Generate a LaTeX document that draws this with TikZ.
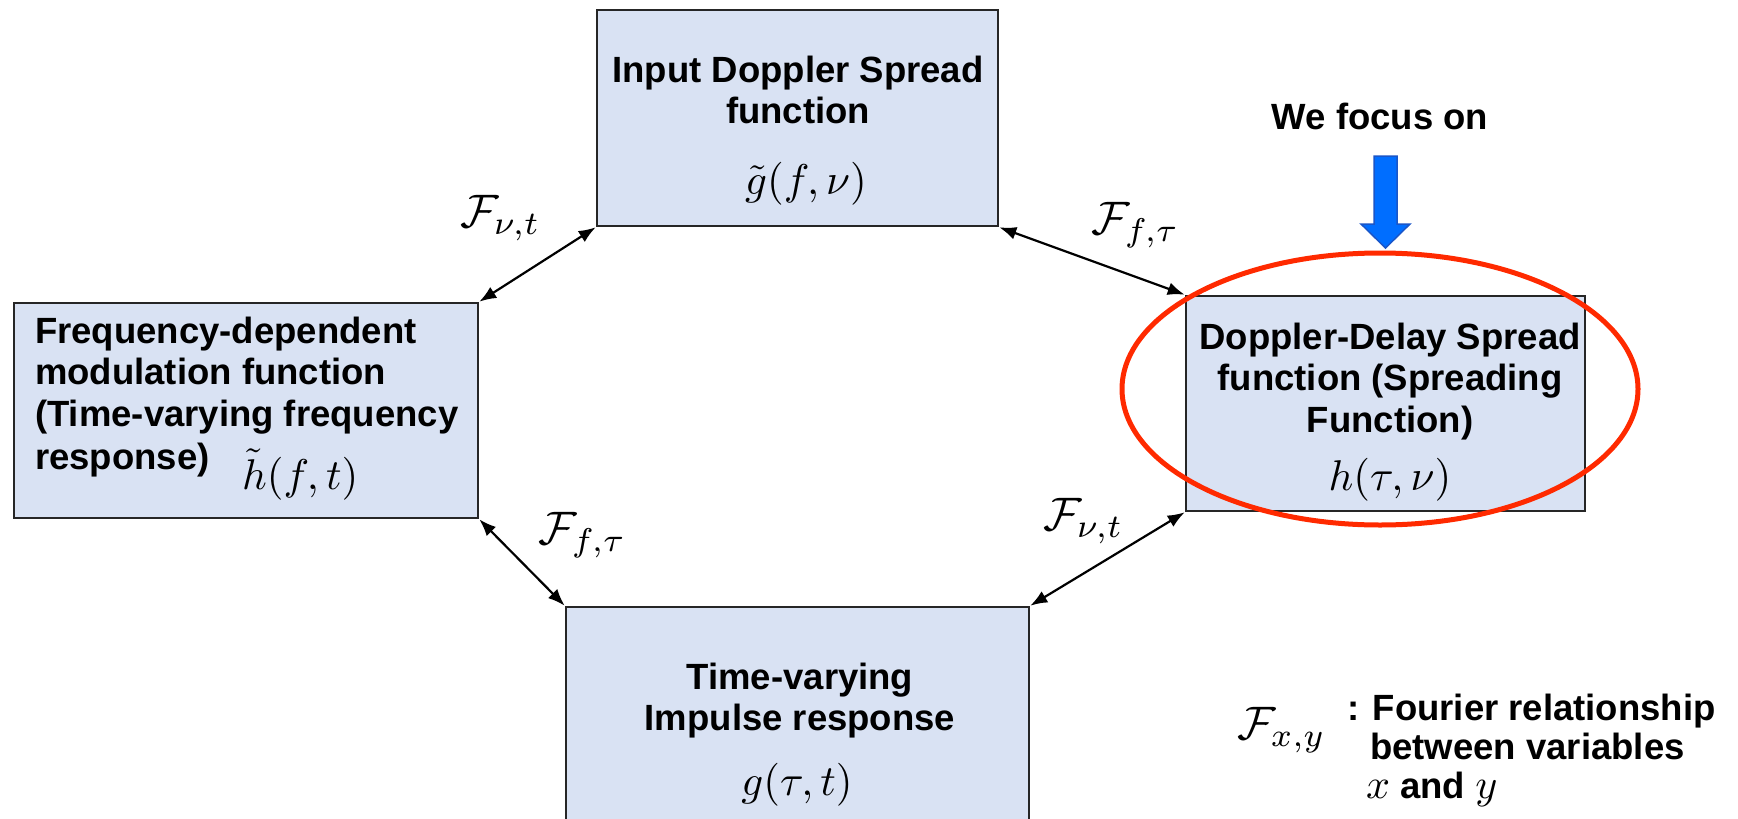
\documentclass[tikz,border=0pt]{standalone}
\usepackage{graphicx}
\usepackage[no-math]{fontspec}
\newfontfamily\arialb{Liberation Sans}
\usetikzlibrary{arrows.meta,shapes.geometric}
\definecolor{boxfill}{HTML}{D9E2F3}
\definecolor{focusred}{HTML}{FF2A00}
\definecolor{focusblue}{HTML}{006EFF}
\definecolor{focusblueedge}{HTML}{1A56C8}
\newcommand\bxmath[1]{\scalebox{4.3}{\normalsize$#1$}}
\newcommand\lbmath[1]{\scalebox{4.7}{\normalsize$#1$}}
\newcommand\lgmath[1]{\scalebox{4.2}{\normalsize$#1$}}
\begin{document}
\begin{tikzpicture}[x=1pt,y=-1pt,
  fbox/.style={draw=black!85, line width=2.6pt, fill=boxfill, inner sep=0pt},
  txt/.style={font=\arialb\bfseries\fontsize{36.5}{41.5}\selectfont, inner sep=0pt},
  mth/.style={inner sep=0pt, anchor=base},
  lab/.style={inner sep=0pt, anchor=base west},
  conn/.style={line width=2.2pt, {Latex[length=17pt,width=13pt]}-{Latex[length=17pt,width=13pt]}}
]
\clip (0,0) rectangle (1738,819);
\fill[white] (0,0) rectangle (1738,819);

% boxes
\node[fbox, minimum width=401pt, minimum height=216pt] (topbox) at (797.5,118) {};
\node[fbox, minimum width=464pt, minimum height=215pt] (leftbox) at (246,410.5) {};
\node[fbox, minimum width=399pt, minimum height=215pt] (rightbox) at (1385.5,403.5) {};
\node[fbox, minimum width=463pt, minimum height=240pt] (botbox) at (797.5,727) {};

% box texts
\node[txt, anchor=base] (toptxt) at (798,82)
  {\begin{tabular}[t]{@{}c@{}}Input Doppler Spread\\function\end{tabular}};
\node[mth] (topmath) at (806,194) {\bxmath{\tilde g(f,\nu)}};

\node[txt, anchor=base west] (lefttxt) at (35,343)
  {\begin{tabular}[t]{@{}l@{}}Frequency-dependent\\modulation function\\(Time-varying frequency\end{tabular}};
\node[txt, anchor=base west] (lefttxtb) at (35,469) {response)};
\node[mth, anchor=base west] (leftmath) at (242,489) {\bxmath{\tilde h(f,t)}};

\node[txt, anchor=base] (righttxt) at (1390,349)
  {\begin{tabular}[t]{@{}c@{}}Doppler-Delay Spread\\function (Spreading\\Function)\end{tabular}};
\node[mth] (rightmath) at (1390,490) {\bxmath{h(\tau,\nu)}};

\node[txt, anchor=base] (bottxt) at (800,689)
  {\begin{tabular}[t]{@{}c@{}}Time-varying\\Impulse response\end{tabular}};
\node[mth] (botmath) at (797,795) {\bxmath{g(\tau,t)}};

% connectors
\draw[conn] (leftbox.north east) -- (topbox.south west);
\draw[conn] (topbox.south east) -- (rightbox.north west);
\draw[conn] (leftbox.south east) -- (botbox.north west);
\draw[conn] (botbox.north east) -- (rightbox.south west);

% connector labels
\node[lab] (lab1) at (460,227) {\lbmath{\mathcal{F}_{\nu,t}}};
\node[lab] (lab2) at (1091,234) {\lbmath{\mathcal{F}_{f,\tau}}};
\node[lab] (lab3) at (538,544) {\lbmath{\mathcal{F}_{f,\tau}}};
\node[lab] (lab4) at (1043,530) {\lbmath{\mathcal{F}_{\nu,t}}};

% focus
\node[draw=focusred, line width=5pt, ellipse, inner sep=0pt,
      minimum width=516pt, minimum height=272pt] (focus) at (1380,389) {};
\node[txt, anchor=base] (focustxt) at (1380,129) {We focus on};
\draw[fill=focusblue, draw=focusblueedge, line width=1.5pt, line join=miter]
  (1374,156) -- (1397,156) -- (1397,224) -- (1410,224) -- (1385.5,248)
  -- (1361,224) -- (1374,224) -- cycle;

% legend
\node[lab] (legF) at (1237,739) {\lbmath{\mathcal{F}_{x,y}}};
\node[txt, anchor=base west, font=\arialb\bfseries\fontsize{36.5}{39}\selectfont] (legtxt) at (1347,720)
  {\begin{tabular}[t]{@{}l@{}}: Fourier relationship\\\hspace*{23pt}between variables\\\hspace*{19pt}\lgmath{x} and \lgmath{y}\end{tabular}};
\end{tikzpicture}
\end{document}
